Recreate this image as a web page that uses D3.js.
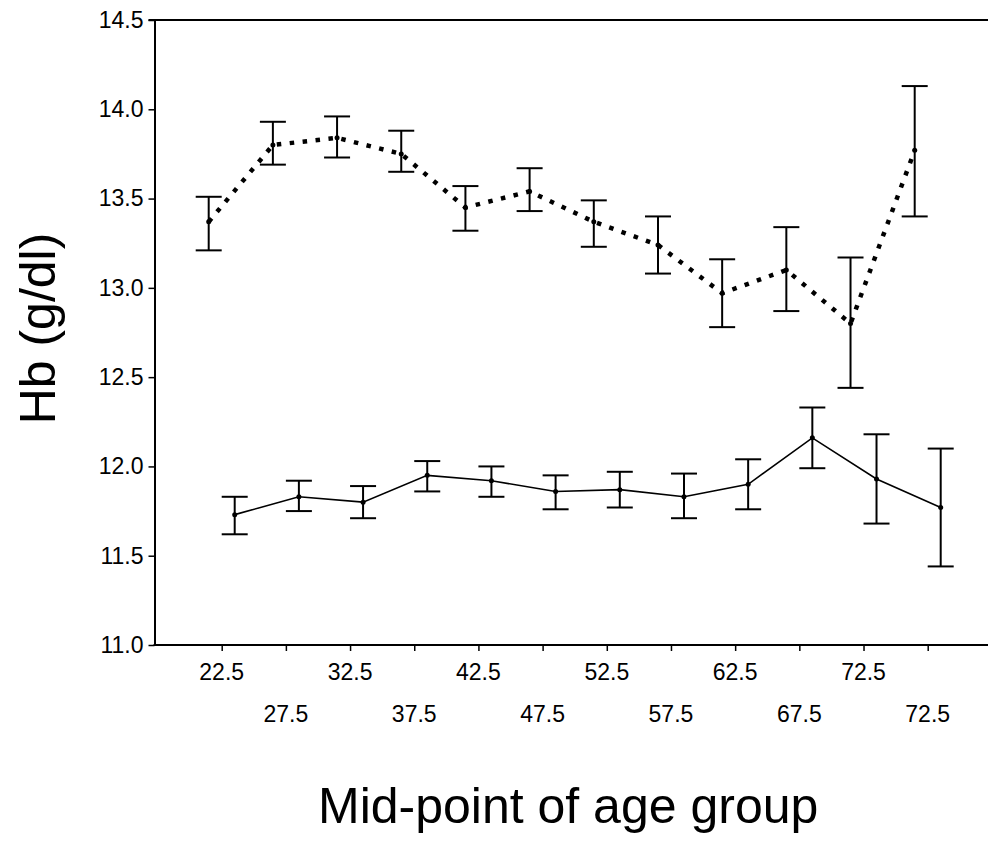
<head>
<style>
    body { margin: 0; background: #fff; }
    text { font-family: 'Liberation Sans', Arial, sans-serif; fill: #000; }
</style>
</head>
<body>
    <div id = 'chart'></div>
    <script src = 'https://cdn.jsdelivr.net/npm/d3@7'></script>
    <script>
        var height = 845,
            width = 988;

        // age group mid-points (the last group is labelled 72.5 again in the source)
        var ageLabels = ['22.5', '27.5', '32.5', '37.5', '42.5', '47.5', '52.5', '57.5', '62.5', '67.5', '72.5', '72.5'];

        // dotted series (upper)
        var upperMean = [13.37, 13.80, 13.84, 13.75, 13.45, 13.54, 13.37, 13.24, 12.97, 13.10, 12.80, 13.77];
        var upperLo   = [13.21, 13.69, 13.73, 13.65, 13.32, 13.43, 13.23, 13.08, 12.78, 12.87, 12.44, 13.40];
        var upperHi   = [13.51, 13.93, 13.96, 13.88, 13.57, 13.67, 13.49, 13.40, 13.16, 13.34, 13.17, 14.13];

        // solid series (lower)
        var lowerMean = [11.73, 11.83, 11.80, 11.95, 11.92, 11.86, 11.87, 11.83, 11.90, 12.16, 11.93, 11.77];
        var lowerLo   = [11.62, 11.75, 11.71, 11.86, 11.83, 11.76, 11.77, 11.71, 11.76, 11.99, 11.68, 11.44];
        var lowerHi   = [11.83, 11.92, 11.89, 12.03, 12.00, 11.95, 11.97, 11.96, 12.04, 12.33, 12.18, 12.10];

        var yTicks = [11.0, 11.5, 12.0, 12.5, 13.0, 13.5, 14.0, 14.5];

        var margin = {left: 154.5, top: 20, bottom: 645};
        var offset = 13, capW = 13;

        var svg = d3.select('#chart')
            .append('svg')
            .attr('height', height)
            .attr('width', width);

        var x = d3.scalePoint()
            .domain(d3.range(ageLabels.length))
            .range([221.7, 927.7]);

        var y = d3.scaleLinear()
            .domain([11, 14.5])
            .range([margin.bottom, margin.top]);

        // frame lines top and bottom
        svg.append('line')
            .attr('x1', margin.left - 6).attr('x2', width)
            .attr('y1', y(14.5)).attr('y2', y(14.5))
            .attr('stroke', '#000').attr('stroke-width', 2);
        svg.append('line')
            .attr('x1', margin.left - 1).attr('x2', width)
            .attr('y1', y(11)).attr('y2', y(11))
            .attr('stroke', '#000').attr('stroke-width', 2);

        // y axis
        var yAxis = svg.append('g')
            .attr('transform', 'translate(' + margin.left + ',0)')
            .call(d3.axisLeft(y).tickValues(yTicks).tickFormat(d3.format('.1f')).tickSize(6).tickSizeOuter(0).tickPadding(5));
        yAxis.select('.domain').attr('stroke-width', 2);
        yAxis.selectAll('.tick line').attr('stroke-width', 1.5);
        yAxis.selectAll('text')
            .style('font-family', "'Liberation Sans', Arial, sans-serif")
            .style('font-size', '23px');

        // x axis ticks, labels drawn on two rows
        var xAxis = svg.append('g')
            .attr('transform', 'translate(0,' + y(11) + ')')
            .call(d3.axisBottom(x).tickSize(6).tickFormat(''));
        xAxis.select('.domain').remove();
        xAxis.selectAll('.tick line').attr('stroke-width', 1.5);

        svg.selectAll('.xlab')
            .data(ageLabels)
            .enter().append('text')
            .attr('class', 'xlab')
            .attr('x', function(d, i){ return x(i); })
            .attr('y', function(d, i){ return i % 2 == 0 ? 680 : 722; })
            .attr('text-anchor', 'middle')
            .style('font-size', '23px')
            .text(function(d){ return d; });

        // axis titles
        svg.append('text')
            .attr('transform', 'translate(55,' + ((margin.top + margin.bottom) / 2 - 4) + ') rotate(-90)')
            .attr('text-anchor', 'middle')
            .style('font-size', '50px')
            .text('Hb (g/dl)');

        svg.append('text')
            .attr('x', 318)
            .attr('y', 823)
            .style('font-size', '50px')
            .text('Mid-point of age group');

        function drawSeries(mean, lo, hi, dx, dotted){
            var pts = mean.map(function(m, i){ return {i: i, m: m, lo: lo[i], hi: hi[i]}; });
            var g = svg.append('g');

            var line = d3.line()
                .x(function(d){ return x(d.i) + dx; })
                .y(function(d){ return y(d.m); });

            g.append('path')
                .datum(pts)
                .attr('d', line)
                .attr('fill', 'none')
                .attr('stroke', '#000')
                .attr('stroke-width', dotted ? 4.5 : 1.6)
                .attr('stroke-dasharray', dotted ? '4.5 8.5' : null);

            var bars = g.selectAll('.bar')
                .data(pts)
                .enter().append('g');

            bars.append('line')
                .attr('x1', function(d){ return x(d.i) + dx; })
                .attr('x2', function(d){ return x(d.i) + dx; })
                .attr('y1', function(d){ return y(d.lo); })
                .attr('y2', function(d){ return y(d.hi); })
                .attr('stroke', '#000').attr('stroke-width', 2);
            bars.append('line')
                .attr('x1', function(d){ return x(d.i) + dx - capW; })
                .attr('x2', function(d){ return x(d.i) + dx + capW; })
                .attr('y1', function(d){ return y(d.lo); })
                .attr('y2', function(d){ return y(d.lo); })
                .attr('stroke', '#000').attr('stroke-width', 2);
            bars.append('line')
                .attr('x1', function(d){ return x(d.i) + dx - capW; })
                .attr('x2', function(d){ return x(d.i) + dx + capW; })
                .attr('y1', function(d){ return y(d.hi); })
                .attr('y2', function(d){ return y(d.hi); })
                .attr('stroke', '#000').attr('stroke-width', 2);
            bars.append('circle')
                .attr('cx', function(d){ return x(d.i) + dx; })
                .attr('cy', function(d){ return y(d.m); })
                .attr('r', 2.5)
                .attr('fill', '#000');
        }

        drawSeries(upperMean, upperLo, upperHi, -offset, true);
        drawSeries(lowerMean, lowerLo, lowerHi, offset, false);
    </script>
</body>
